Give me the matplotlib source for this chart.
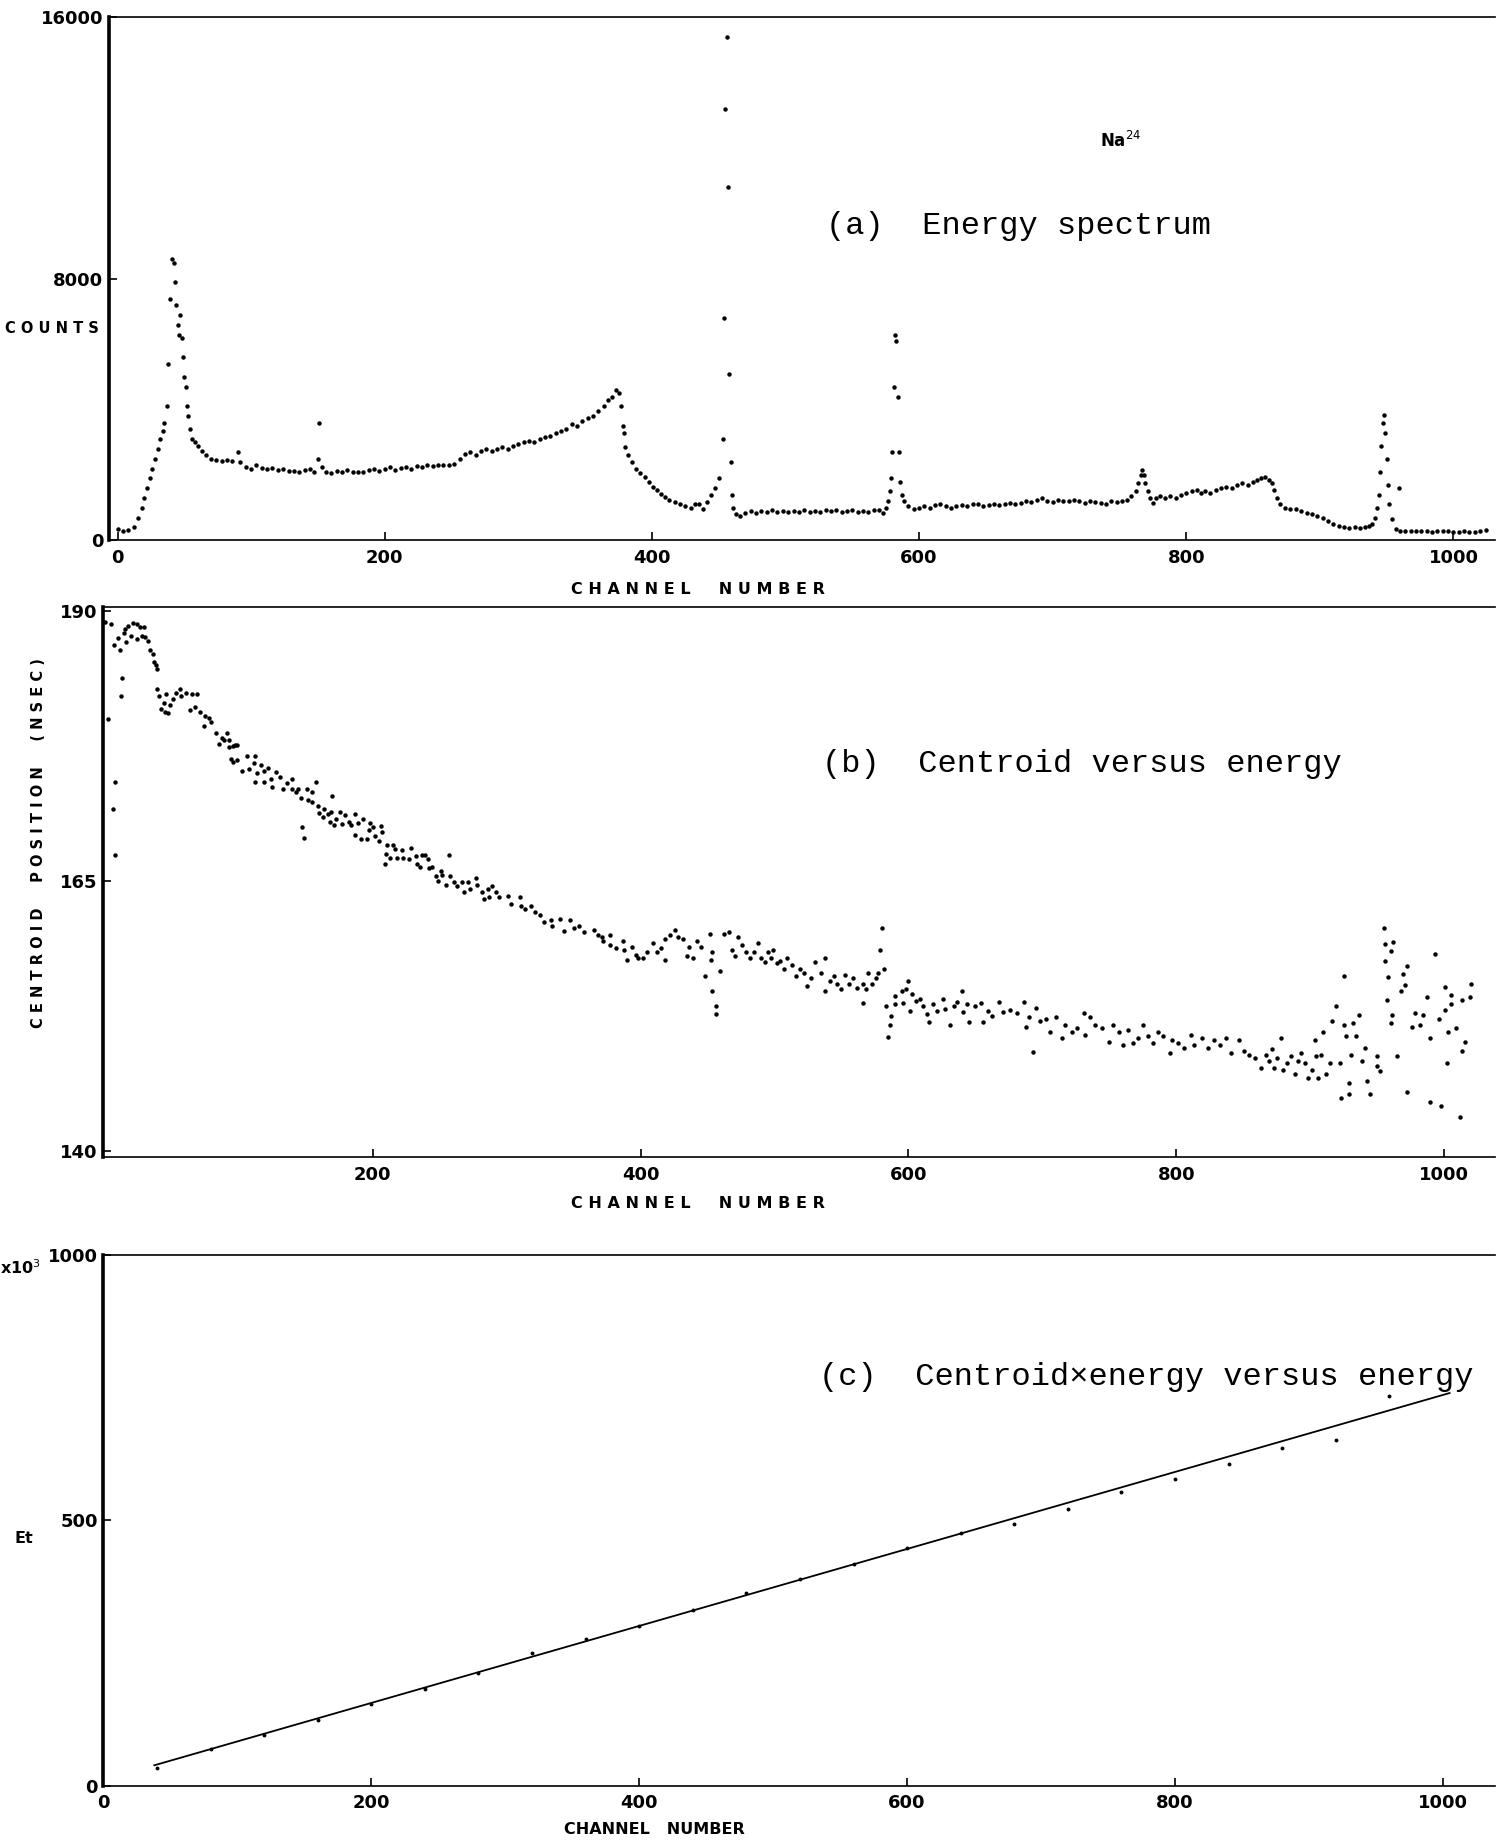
import numpy as np
import matplotlib.pyplot as plt

# ---- (a) energy spectrum : (channel, counts)
spectrum_a = [
    (0, 350), (4, 300), (8, 320), (12, 420), (15, 700), (18, 1000), (20, 1300), (22, 1600),
    (24, 1900), (26, 2200), (28, 2500), (30, 2800), (32, 3100), (34, 3350), (35, 3600),
    (37, 4100), (38, 5400), (39, 7400), (41, 8600), (42, 8500), (43, 7900), (44, 7200),
    (45, 6600), (46, 6300), (47, 6900), (48, 6200), (49, 5600), (50, 5000), (51, 4700),
    (52, 4100), (53, 3800), (54, 3400), (56, 3100), (58, 3000), (60, 2900), (63, 2750),
    (66, 2600), (70, 2500), (74, 2450), (78, 2420), (82, 2450), (86, 2420), (90, 2700),
    (92, 2400), (96, 2250), (100, 2200), (104, 2300), (108, 2230), (112, 2180), (116, 2230),
    (120, 2150), (124, 2180), (128, 2120), (132, 2130), (136, 2100), (140, 2170), (144, 2200),
    (147, 2100), (150, 2500), (151, 3600), (153, 2250), (156, 2100), (160, 2050), (164, 2120),
    (168, 2080), (172, 2150), (176, 2100), (180, 2100), (184, 2080), (188, 2150), (192, 2200),
    (196, 2120), (200, 2180), (204, 2250), (208, 2150), (212, 2220), (216, 2250), (220, 2200),
    (224, 2280), (228, 2250), (232, 2300), (236, 2280), (240, 2300), (244, 2320), (248, 2300),
    (252, 2350), (256, 2500), (260, 2650), (264, 2700), (268, 2600), (272, 2750), (276, 2800),
    (280, 2750), (284, 2800), (288, 2850), (292, 2800), (296, 2900), (300, 2950), (304, 3000),
    (308, 3050), (312, 3000), (316, 3100), (320, 3150), (324, 3200), (328, 3300), (332, 3350),
    (336, 3400), (340, 3550), (344, 3500), (348, 3650), (352, 3750), (356, 3800), (360, 3950),
    (364, 4100), (367, 4300), (370, 4400), (373, 4600), (375, 4500), (377, 4100), (378, 3500),
    (379, 3300), (380, 2850), (382, 2600), (385, 2400), (388, 2200), (391, 2050), (395, 1950),
    (398, 1800), (401, 1650), (404, 1530), (407, 1430), (410, 1330), (413, 1250), (417, 1170),
    (421, 1100), (425, 1050), (429, 1000), (432, 1100), (435, 1120), (438, 950), (441, 1170),
    (444, 1380), (447, 1600), (450, 1900), (453, 3100), (454, 6800), (455, 13200), (456, 15400),
    (457, 10800), (458, 5100), (459, 2400), (460, 1400), (461, 1000), (463, 800), (466, 750),
    (470, 850), (474, 900), (478, 850), (482, 900), (486, 870), (490, 930), (494, 870),
    (498, 900), (502, 880), (506, 900), (510, 870), (514, 930), (518, 880), (522, 900),
    (526, 860), (530, 920), (534, 900), (538, 930), (542, 870), (546, 900), (550, 920),
    (554, 880), (558, 900), (562, 870), (566, 920), (570, 930), (573, 850), (575, 1000),
    (577, 1200), (578, 1500), (579, 1900), (580, 2700), (581, 4700), (582, 6300), (583, 6100),
    (584, 4400), (585, 2700), (586, 1800), (587, 1400), (589, 1200), (592, 1050), (596, 950),
    (600, 1000), (604, 1050), (608, 1000), (612, 1080), (616, 1120), (620, 1050), (624, 1000),
    (628, 1050), (632, 1080), (636, 1050), (640, 1120), (644, 1100), (648, 1050), (652, 1080),
    (656, 1100), (660, 1070), (664, 1120), (668, 1150), (672, 1100), (676, 1150), (680, 1200),
    (684, 1180), (688, 1250), (692, 1300), (696, 1200), (700, 1180), (704, 1250), (708, 1200),
    (712, 1220), (716, 1250), (720, 1200), (724, 1150), (728, 1220), (732, 1180), (736, 1150),
    (740, 1120), (744, 1200), (748, 1180), (752, 1220), (756, 1250), (759, 1350), (762, 1500),
    (764, 1750), (766, 2000), (767, 2150), (768, 2000), (769, 1750), (771, 1500), (773, 1300),
    (775, 1150), (777, 1300), (780, 1350), (784, 1300), (788, 1350), (792, 1300), (796, 1400),
    (800, 1450), (804, 1500), (808, 1550), (811, 1450), (814, 1500), (818, 1450), (822, 1550),
    (826, 1600), (830, 1650), (834, 1600), (838, 1700), (842, 1750), (846, 1700), (850, 1800),
    (853, 1850), (856, 1900), (859, 1950), (862, 1850), (864, 1750), (866, 1550), (868, 1300),
    (870, 1100), (874, 1000), (878, 950), (882, 950), (886, 900), (890, 850), (894, 800),
    (898, 750), (902, 700), (906, 600), (910, 500), (914, 450), (918, 400), (922, 380),
    (926, 400), (930, 380), (934, 420), (937, 450), (939, 500), (941, 700), (943, 1000),
    (944, 1400), (945, 2100), (946, 2900), (947, 3600), (948, 3850), (949, 3300), (950, 2500),
    (951, 1700), (952, 1100), (954, 650), (957, 350), (959, 1600), (960, 300), (964, 280),
    (968, 300), (972, 280), (976, 300), (980, 280), (984, 270), (988, 300), (992, 280),
    (996, 300), (1000, 270), (1004, 260), (1008, 280), (1012, 250), (1016, 260), (1020, 290),
    (1024, 320),
]

# ---- (b) centroid position (nsec) : (channel, centroid)
centroid_b = [
    (0, 189.0), (2.5, 180.0), (5, 188.8), (6.5, 171.7), (7, 186.8), (7.5, 174.2), (8, 167.4),
    (10, 187.5), (11, 186.4), (12, 182.1), (13, 183.8), (14, 187.9), (15, 188.3), (16, 187.1),
    (17.5, 188.6), (19.5, 187.7), (21, 188.9), (24, 188.8), (24, 187.4), (26, 188.5),
    (27.5, 187.7), (29, 188.5), (30, 187.6), (32.5, 187.2), (34, 186.4), (36, 186.0),
    (36.5, 185.3), (38, 185.0), (39, 184.6), (39, 182.8), (40.5, 182.1), (42, 180.9),
    (44, 181.5), (45, 180.6), (46, 182.3), (47, 180.5), (49, 181.3), (51, 181.8), (53, 182.4),
    (56, 182.8), (57, 182.1), (61, 182.4), (64, 180.8), (65, 182.3), (67.5, 181.1), (69, 182.3),
    (71, 180.6), (74, 179.3), (75, 180.3), (78, 180.1), (79, 179.7), (83, 178.7), (85, 177.7),
    (87.5, 178.2), (89, 178.0), (91, 178.7), (92.5, 178.0), (93, 177.4), (94, 176.3),
    (96, 177.5), (96, 176.0), (97.5, 177.6), (99, 177.6), (99, 176.2), (102.5, 175.2),
    (106, 176.6), (107.5, 175.4), (111.5, 175.9), (112, 174.2), (112.5, 176.6), (114, 175.0),
    (117, 175.7), (119, 175.2), (119, 174.2), (121.5, 175.5), (124, 174.4), (125, 173.7),
    (128, 175.1), (131, 174.6), (133, 173.5), (136, 174.1), (140, 174.4), (140, 173.5),
    (143, 173.2), (144, 173.5), (146.5, 172.7), (147.5, 170.0), (149, 169.0), (151, 173.5),
    (152, 172.5), (155, 173.2), (155, 172.3), (158, 174.2), (159, 171.9), (160, 171.3),
    (163, 170.9), (164, 171.7), (166.5, 171.2), (168, 170.5), (169, 171.4), (170, 172.9),
    (171.5, 170.2), (173, 170.7), (175.5, 171.4), (177, 170.3), (179.5, 171.1), (182, 170.5),
    (184, 170.2), (186.5, 171.2), (187, 169.3), (189, 170.4), (191, 168.9), (193, 170.7),
    (195.5, 168.9), (197, 169.7), (198, 170.4), (200.5, 170.0), (202, 169.2), (204.5, 168.7),
    (206, 170.1), (207, 169.5), (209, 166.6), (210, 167.5), (211, 168.3), (213, 167.1),
    (215, 168.3), (217, 168.0), (218, 167.1), (222, 167.9), (223, 167.1), (227, 167.0),
    (229, 168.1), (232, 167.3), (233, 166.6), (235.5, 166.3), (237, 167.4), (239, 167.4),
    (241, 167.0), (242, 166.2), (244, 166.3), (247, 165.5), (249, 165.0), (251, 165.9),
    (252, 165.6), (254.5, 164.6), (257, 167.4), (258, 165.5), (261, 164.9), (263, 164.5),
    (267, 164.9), (268, 164.0), (271, 164.9), (273, 164.3), (277, 165.3), (278, 164.6),
    (282, 164.0), (283, 163.3), (286, 164.3), (287, 163.5), (289, 164.5), (292, 164.0),
    (294, 163.5), (301, 163.6), (303, 162.9), (310, 163.5), (311, 162.7), (314, 162.4),
    (318, 162.7), (321, 162.1), (325, 161.9), (328, 161.2), (333, 161.4), (334, 160.8),
    (340, 161.5), (343, 160.4), (347, 161.4), (350, 160.7), (354, 160.8), (358, 160.3),
    (365, 160.5), (368, 160.0), (371.5, 159.8), (372, 159.5), (377, 160.0), (377, 159.1),
    (382, 158.8), (387, 159.5), (388, 158.6), (390, 157.7), (394, 158.9), (397, 158.2),
    (398, 157.9), (402, 157.9), (405, 158.4), (409, 159.3), (412, 158.4), (415, 158.8),
    (418, 157.7), (418, 159.6), (422, 160.0), (426, 160.5), (428, 159.8), (432, 159.6),
    (435, 158.1), (436, 158.9), (439, 157.9), (442, 159.5), (445, 158.9), (448, 156.2),
    (452, 160.1), (453, 157.7), (453.5, 158.4), (453.5, 154.8), (456, 153.4), (456, 152.7),
    (459, 156.7), (462, 160.1), (466, 160.3), (468, 158.6), (470.5, 158.1), (473, 159.8),
    (476, 159.1), (479, 158.4), (482, 157.9), (485, 158.4), (487.5, 159.3), (490, 157.9),
    (493, 157.5), (495, 158.4), (497.5, 157.9), (499, 158.6), (502, 157.4), (504.5, 157.6),
    (507.5, 156.9), (509, 157.9), (513, 157.2), (516, 156.2), (519, 156.9), (522, 156.5),
    (524.5, 155.3), (527.5, 156.0), (530, 157.5), (534.5, 156.5), (537.5, 157.9), (538, 154.8),
    (541.5, 155.8), (544.5, 156.2), (547, 155.5), (550, 155.0), (553, 156.3), (556, 155.5),
    (558.5, 156.0), (561.5, 155.1), (566, 153.7), (566, 155.5), (568.5, 155.0), (570, 156.5),
    (573, 155.5), (576, 156.0), (577, 156.5), (578.5, 158.6), (580, 160.7), (581.5, 156.9),
    (583, 153.4), (584.5, 150.6), (586, 151.7), (587, 152.5), (590, 153.6), (590, 154.4),
    (595, 154.8), (596, 153.7), (598.5, 155.0), (600, 155.8), (601.5, 153.0), (603, 154.6),
    (605.5, 153.9), (608.5, 154.1), (611, 153.4), (614, 152.7), (615.5, 152.0), (618.5, 153.6),
    (621, 153.0), (625.5, 154.1), (627, 153.2), (631, 151.7), (634, 153.4), (636.5, 153.8),
    (639.8, 154.8), (641, 152.9), (644, 153.6), (645.5, 152.0), (650, 153.4), (654, 153.7),
    (655.5, 152.0), (659.5, 153.0), (662.5, 152.5), (668, 153.8), (671, 152.9), (676, 153.1),
    (681, 152.8), (686, 153.8), (688, 151.5), (690, 152.4), (693, 149.2), (695, 153.3),
    (698, 152.1), (703, 152.2), (706, 151.0), (710, 152.4), (715, 150.5), (717, 151.7),
    (722, 151.0), (726, 151.4), (731, 152.8), (732, 150.8), (735.5, 152.4), (739.5, 151.7),
    (744.5, 151.4), (749.5, 150.1), (753, 151.7), (757, 151.0), (760.5, 149.8), (764, 151.2),
    (768, 150.0), (771.5, 150.5), (775, 151.7), (779, 150.7), (783, 150.0), (786.5, 151.0),
    (790, 150.7), (795, 149.1), (796.5, 150.3), (801, 150.0), (806, 149.6), (811, 150.8),
    (813.5, 149.8), (819.5, 150.5), (823.5, 149.6), (828, 150.3), (833, 149.8), (837, 150.5),
    (841, 149.1), (847, 150.3), (850.5, 149.3), (854, 148.9), (859, 148.6), (863, 147.7),
    (867, 148.9), (869, 148.4), (871.5, 149.5), (873, 147.7), (875, 148.6), (878, 150.5),
    (880, 147.5), (882.5, 148.2), (886, 148.8), (888.5, 147.2), (891, 148.4), (893.5, 149.1),
    (896, 148.2), (898.5, 146.8), (901, 147.5), (903.5, 150.3), (904.5, 148.8), (906, 146.8),
    (908, 148.9), (909.5, 151.0), (912, 147.2), (914.5, 148.2), (916, 152.1), (919.5, 153.4),
    (922, 148.2), (923, 144.9), (925.5, 156.2), (925.5, 151.7), (927, 150.7), (929, 146.3),
    (929, 145.3), (930.5, 148.9), (932, 151.9), (934, 150.7), (936.5, 152.6), (939, 148.4),
    (941, 149.6), (942.5, 146.5), (945, 145.3), (950, 148.8), (950, 147.9), (952.5, 147.4),
    (955, 160.7), (955.5, 157.6), (956, 159.2), (957, 154.0), (958, 156.1), (960, 158.5),
    (960, 151.9), (961, 152.6), (962, 159.4), (965, 148.8), (967.5, 154.8), (969, 156.4),
    (971, 155.4), (972.5, 157.1), (972.5, 145.5), (976, 151.5), (978.5, 152.8), (982, 151.7),
    (984.5, 152.6), (987, 154.3), (989.5, 150.5), (989.5, 144.6), (993.5, 158.3), (996, 152.2),
    (998, 144.2), (1000.5, 155.2), (1000.5, 153.1), (1002.5, 148.2), (1003, 151.0),
    (1005.5, 154.5), (1005.5, 153.6), (1009, 151.4), (1012, 143.2), (1013, 154.0),
    (1013, 149.3), (1015.5, 150.1), (1019, 154.3), (1020, 155.5),
]

# ---- (c) centroid x energy (x10^3)
channels_c = [40, 80, 120, 160, 200, 240, 280, 320, 360, 400, 440, 480,
              520, 560, 600, 640, 680, 720, 760, 800, 840, 880, 920, 960]
et_c = [33, 70, 96, 124, 155, 183, 213, 250, 277, 302, 331, 364,
        389, 418, 449, 476, 494, 521, 553, 579, 607, 636, 652, 735]
fit_channels = [38, 1005]
fit_et = [39, 740]

x_ticks = [0, 200, 400, 600, 800, 1000]

W, H = 1497, 1842
fig = plt.figure(figsize=(W / 100, H / 100), dpi=100)

tick_font = dict(family='DejaVu Sans', weight='bold', size=13)
mono = 'Liberation Mono'


def style_axes(ax):
    ax.spines['right'].set_visible(False)
    ax.spines['left'].set_linewidth(2.6)
    ax.spines['top'].set_linewidth(1.2)
    ax.spines['bottom'].set_linewidth(1.2)
    ax.tick_params(direction='in', length=6, width=1.2, pad=4)
    ax.tick_params(axis='x', pad=6)
    for lab in ax.get_xticklabels() + ax.get_yticklabels():
        lab.set_fontfamily(tick_font['family'])
        lab.set_fontweight(tick_font['weight'])
        lab.set_fontsize(tick_font['size'])


# (a) Energy spectrum
ax_a = fig.add_axes([0.0728, 0.7066, 0.9256, 0.2839])
ch_a, cnt_a = np.array(spectrum_a).T
ax_a.plot(ch_a, cnt_a, 'o', color='black', markersize=3.2, markeredgewidth=0)
ax_a.set_xlim(-6.4, 1030.8)
ax_a.set_ylim(0, 16000)
ax_a.set_xticks(x_ticks)
ax_a.set_xticklabels([str(t) for t in x_ticks])
ax_a.set_yticks([0, 8000, 16000])
ax_a.set_yticklabels(['0', '8000', '16000'])
style_axes(ax_a)

# (b) Centroid versus energy
ax_b = fig.add_axes([0.0691, 0.3717, 0.9293, 0.2985])
ch_b, cen_b = np.array(centroid_b).T
ax_b.plot(ch_b, cen_b, 'o', color='black', markersize=3.2, markeredgewidth=0)
ax_b.set_xlim(-1, 1037.7)
ax_b.set_ylim(139.45, 190.3)
ax_b.set_xticks(x_ticks[1:])
ax_b.set_xticklabels([str(t) for t in x_ticks[1:]])
ax_b.set_yticks([140, 165, 190])
ax_b.set_yticklabels(['140', '165', '190'])
style_axes(ax_b)

# (c) Centroid x energy versus energy
ax_c = fig.add_axes([0.0691, 0.0304, 0.9293, 0.2883])
ax_c.plot(fit_channels, fit_et, '-', color='black', linewidth=1.3)
ax_c.plot(channels_c, et_c, 'o', color='black', markersize=2.8, markeredgewidth=0)
ax_c.set_xlim(3.5, 1038.6)
ax_c.set_ylim(0, 1000)
ax_c.set_xticks(x_ticks)
ax_c.set_xticklabels([str(t) for t in x_ticks])
ax_c.set_yticks([0, 500, 1000])
ax_c.set_yticklabels(['0', '500', '1000'])
style_axes(ax_c)

# labels and titles
fig.text(0.5518, 0.8775, '(a)  Energy spectrum', family=mono, size=23, va='center')
fig.text(0.5494, 0.5853, '(b)  Centroid versus energy', family=mono, size=23, va='center')
fig.text(0.5471, 0.2524, '(c)  Centroid\u00d7energy versus energy', family=mono, size=23, va='center')
fig.text(0.735, 0.9235, 'Na$^{24}$', family='DejaVu Sans', weight='bold', size=12, va='center')

lab_font = dict(family='DejaVu Sans', weight='bold', size=11.5)
fig.text(0.4663, 0.6797, 'C H A N N E L     N U M B E R', ha='center', va='center', **lab_font)
fig.text(0.4663, 0.3464, 'C H A N N E L     N U M B E R', ha='center', va='center', **lab_font)
fig.text(0.4369, 0.0068, 'CHANNEL   NUMBER', ha='center', va='center', **lab_font)
fig.text(0.035, 0.8214, 'C O U N T S', ha='center', va='center', **dict(lab_font, size=10.5))
fig.text(0.0259, 0.5423, 'C E N T R O I D     P O S I T I O N     ( N S E C )',
         rotation=90, ha='center', va='center', **dict(lab_font, size=10.5))
fig.text(0.0157, 0.1645, 'Et', ha='center', va='center', **lab_font)
fig.text(0.0134, 0.312, 'x10$^3$', ha='center', va='center', **lab_font)

fig.savefig('out.png', dpi=100, facecolor='white')
